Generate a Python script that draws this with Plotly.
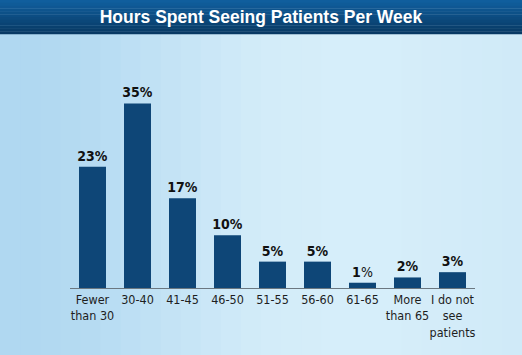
import math
import plotly.graph_objects as go

categories = ["Fewer<br>than 30", "30-40", "41-45", "46-50", "51-55", "56-60", "61-65", "More<br>than 65", "I do not<br>see<br>patients"]
values = [23, 35, 17, 10, 5, 5, 1, 2, 3]
value_labels = ["<b>23%</b>", "<b>35%</b>", "<b>17%</b>", "<b>10%</b>", "<b>5%</b>", "<b>5%</b>", "<b>1</b>%", "<b>2%</b>", "<b>3%</b>"]
title_text = "Hours Spent Seeing Patients Per Week"

W, H = 522, 355
NARROW = "DejaVu Sans Condensed, Liberation Sans Narrow, Arial Narrow, Roboto, sans-serif"

fig = go.Figure()

fig.add_trace(go.Bar(
    x=categories, y=values,
    text=value_labels, textposition="outside", constraintext="none",
    textfont=dict(family=NARROW, size=14, color="#111111"),
    marker=dict(color="#0e4677", line=dict(width=0)),
    cliponaxis=False, width=0.6,
    hoverinfo="skip",
))

shapes = []
# background horizontal gradient (light blue)
n = 26
for i in range(n):
    t = (i + 0.5) / n
    k = 0.5 - 0.5 * math.cos(min(1.0, t * 1.6) * math.pi)
    if t > 0.75:
        k = k - (t - 0.75) * 0.6
    r = int(176 + (214 - 176) * k)
    g = int(216 + (238 - 216) * k)
    b = int(241 + (250 - 241) * k)
    shapes.append(dict(type="rect", xref="paper", yref="paper", layer="below",
                       x0=-70 / 405 + i * (W / 405) / n, x1=-70 / 405 + (i + 1) * (W / 405) / n + 0.002,
                       y0=-67 / 211, y1=(H - 67) / 211,
                       fillcolor=f"rgb({r},{g},{b})", line=dict(width=0)))
# title band gradient
m = 12
band_top = H
for i in range(m):
    t = (i + 0.5) / m
    r = int(17 + (8 - 17) * t)
    g = int(96 + (56 - 96) * t)
    b = int(160 + (98 - 160) * t)
    y1 = band_top - i * 34 / m
    y0 = band_top - (i + 1) * 34 / m - 0.3
    shapes.append(dict(type="rect", xref="paper", yref="paper", layer="below",
                       x0=-70 / 405, x1=(W - 70) / 405,
                       y0=(y0 - 67) / 211, y1=(y1 - 67) / 211,
                       fillcolor=f"rgb({r},{g},{b})", line=dict(width=0)))

fig.update_layout(
    width=W, height=H,
    margin=dict(l=70, r=47, t=77, b=67),
    paper_bgcolor="#c6e4f6", plot_bgcolor="rgba(0,0,0,0)",
    showlegend=False,
    shapes=shapes,
    bargap=0.4,
    title=dict(text="<b>" + title_text + "</b>", x=0.5, xanchor="center",
               y=1 - 17 / H, yanchor="middle",
               font=dict(family="Liberation Sans, Arial, sans-serif", size=17.5, color="white")),
    xaxis=dict(showgrid=False, zeroline=False, showline=True, linecolor="#6b7780", linewidth=1,
               ticks="", tickangle=0, automargin=False,
               tickfont=dict(family=NARROW, size=12.5, color="#1e1e1e"),
               range=[-0.5, 8.5], fixedrange=True),
    yaxis=dict(range=[0, 40], visible=False, fixedrange=True),
)

fig.write_html("out.html", config={"displayModeBar": False},
               post_script="document.body.style.margin='0';document.body.style.padding='0';")
